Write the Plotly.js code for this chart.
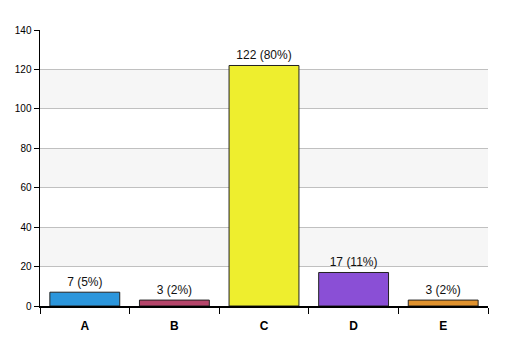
<!DOCTYPE html>
<html>
<head>
<meta charset="utf-8">
<script src="https://cdn.plot.ly/plotly-3.0.1.min.js"></script>
<style>html,body{margin:0;padding:0;background:#fff;}#chart{width:507px;height:356px;}</style>
</head>
<body>
<div id="chart"></div>
<script>
const categories = ["A", "B", "C", "D", "E"];
const counts = [7, 3, 122, 17, 3];
const percents = [5, 2, 80, 11, 2];
const barColors = ["#2c96dc", "#b5456a", "#eeee2e", "#8a4fd6", "#e0922e"];
const yTicks = [0, 20, 40, 60, 80, 100, 120, 140];
const shadedBands = [[20, 40], [60, 80], [100, 120]];

const labels = counts.map((c, i) => c + " (" + percents[i] + "%)");

const trace = {
  type: "bar",
  x: categories,
  y: counts,
  text: labels,
  textposition: "outside",
  cliponaxis: false,
  textfont: {family: "Liberation Sans, Arial, sans-serif", size: 12, color: "#111"},
  marker: {color: barColors, line: {color: "#222", width: 1}},
  hoverinfo: "none"
};

const shapes = shadedBands.map(b => ({
  type: "rect", xref: "paper", yref: "y", x0: 0, x1: 1, y0: b[0], y1: b[1],
  fillcolor: "#f6f6f6", line: {width: 0}, layer: "below"
}));

const layout = {
  width: 507, height: 356,
  margin: {l: 40, r: 19, t: 30, b: 50},
  paper_bgcolor: "#fff", plot_bgcolor: "#fff",
  showlegend: false,
  bargap: 0.22,
  shapes: shapes,
  font: {family: "Liberation Sans, Arial, sans-serif", color: "#000"},
  xaxis: {
    type: "category",
    showline: true, linecolor: "#000", linewidth: 2,
    ticks: "outside", tickson: "boundaries", ticklen: 6, tickcolor: "#000", tickwidth: 1,
    ticklabelstandoff: 8,
    tickfont: {size: 12, family: "Liberation Sans, Arial, sans-serif", weight: "bold", color: "#000"},
    showgrid: false, zeroline: false, fixedrange: true
  },
  yaxis: {
    range: [0, 140],
    tickvals: yTicks,
    ticktext: yTicks.map(String),
    showline: true, linecolor: "#000", linewidth: 1.5,
    ticks: "outside", ticklen: 5, tickcolor: "#000", tickwidth: 1,
    tickfont: {size: 10, color: "#000"},
    showgrid: true, gridcolor: "#c0c0c0", gridwidth: 1,
    zeroline: false, fixedrange: true
  }
};

Plotly.newPlot("chart", [trace], layout, {displayModeBar: false, staticPlot: true});
</script>
</body>
</html>
